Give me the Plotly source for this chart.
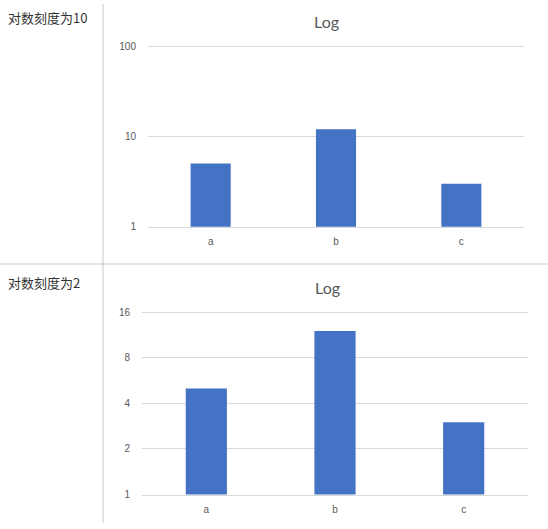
import math
import plotly.graph_objects as go

# data
categories = ['a', 'b', 'c']
values = [5, 12, 3]
row_labels = ['对数刻度为10', '对数刻度为2']
chart_title = 'Log'
ticks_base10 = [1, 10, 100]
ticks_base2 = [1, 2, 4, 8, 16]

W, H = 548, 529
bar_color = '#4472C4'
grid_color = '#D9D9D9'
text_color = '#595959'


def px_x(p):
    return p / W


def px_y(p):
    return 1 - p / H


# plotly drops a gridline that sits right on the plot edge, so pad the top by 2px
top10 = math.log10(ticks_base10[-1])
pad10 = 2 / ((227 - 43) / top10)
top2 = math.log10(ticks_base2[-1])
pad2 = 2 / ((500 - 314) / top2)

fig = go.Figure()
fig.add_trace(go.Bar(x=categories, y=values, marker_color=bar_color,
                     marker_line_width=0, xaxis='x', yaxis='y'))
fig.add_trace(go.Bar(x=categories, y=values, marker_color=bar_color,
                     marker_line_width=0, xaxis='x2', yaxis='y2'))

x_common = dict(showgrid=False, showline=True, linecolor=grid_color, linewidth=1,
                ticks='outside', ticklen=5, tickcolor='rgba(0,0,0,0)',
                tickfont=dict(size=10, color=text_color), fixedrange=True)
y_common = dict(type='log', showgrid=True, gridcolor=grid_color, gridwidth=1,
                showline=False, zeroline=False,
                ticks='outside', ticklen=9, tickcolor='rgba(0,0,0,0)',
                tickfont=dict(size=10, color=text_color), fixedrange=True)

fig.update_layout(
    width=W, height=H,
    margin=dict(l=0, r=0, t=0, b=0),
    paper_bgcolor='white', plot_bgcolor='white',
    showlegend=False,
    bargap=0.68,
    font=dict(family='Liberation Sans, Arial, sans-serif'),
    xaxis=dict(domain=[px_x(148), px_x(524)], anchor='y', **x_common),
    yaxis=dict(domain=[px_y(227), px_y(41)], anchor='x', range=[0, top10 + pad10],
               tickvals=ticks_base10, ticktext=[str(t) for t in ticks_base10], **y_common),
    xaxis2=dict(domain=[px_x(142), px_x(528)], anchor='y2', **x_common),
    yaxis2=dict(domain=[px_y(500), px_y(312)], anchor='x2', range=[0, top2 + pad2],
                tickvals=ticks_base2, ticktext=[str(t) for t in ticks_base2], **y_common),
)

# table borders
fig.add_shape(type='line', xref='paper', yref='paper',
              x0=px_x(103), x1=px_x(103), y0=0, y1=1,
              line=dict(color='#C8C8C8', width=1))
fig.add_shape(type='line', xref='paper', yref='paper',
              x0=0, x1=1, y0=px_y(265), y1=px_y(265),
              line=dict(color='#C8C8C8', width=1))

# row labels and chart titles
for lbl, yc in zip(row_labels, [14, 284]):
    fig.add_annotation(text=lbl, xref='paper', yref='paper', x=px_x(6), y=px_y(yc),
                       xanchor='left', yanchor='middle', showarrow=False,
                       font=dict(family='Noto Sans CJK SC', size=13, color='#333333'))
for xc, yc in [(326, 18), (327, 289)]:
    fig.add_annotation(text=chart_title, xref='paper', yref='paper', x=px_x(xc), y=px_y(yc),
                       xanchor='center', yanchor='middle', showarrow=False,
                       font=dict(family='Lato, Open Sans, sans-serif', size=16, color=text_color))

# page has a default body margin; drop it so the figure fills the window
fig.write_html('out.html', config={'displayModeBar': False},
               post_script="document.body.style.margin='0px';")
